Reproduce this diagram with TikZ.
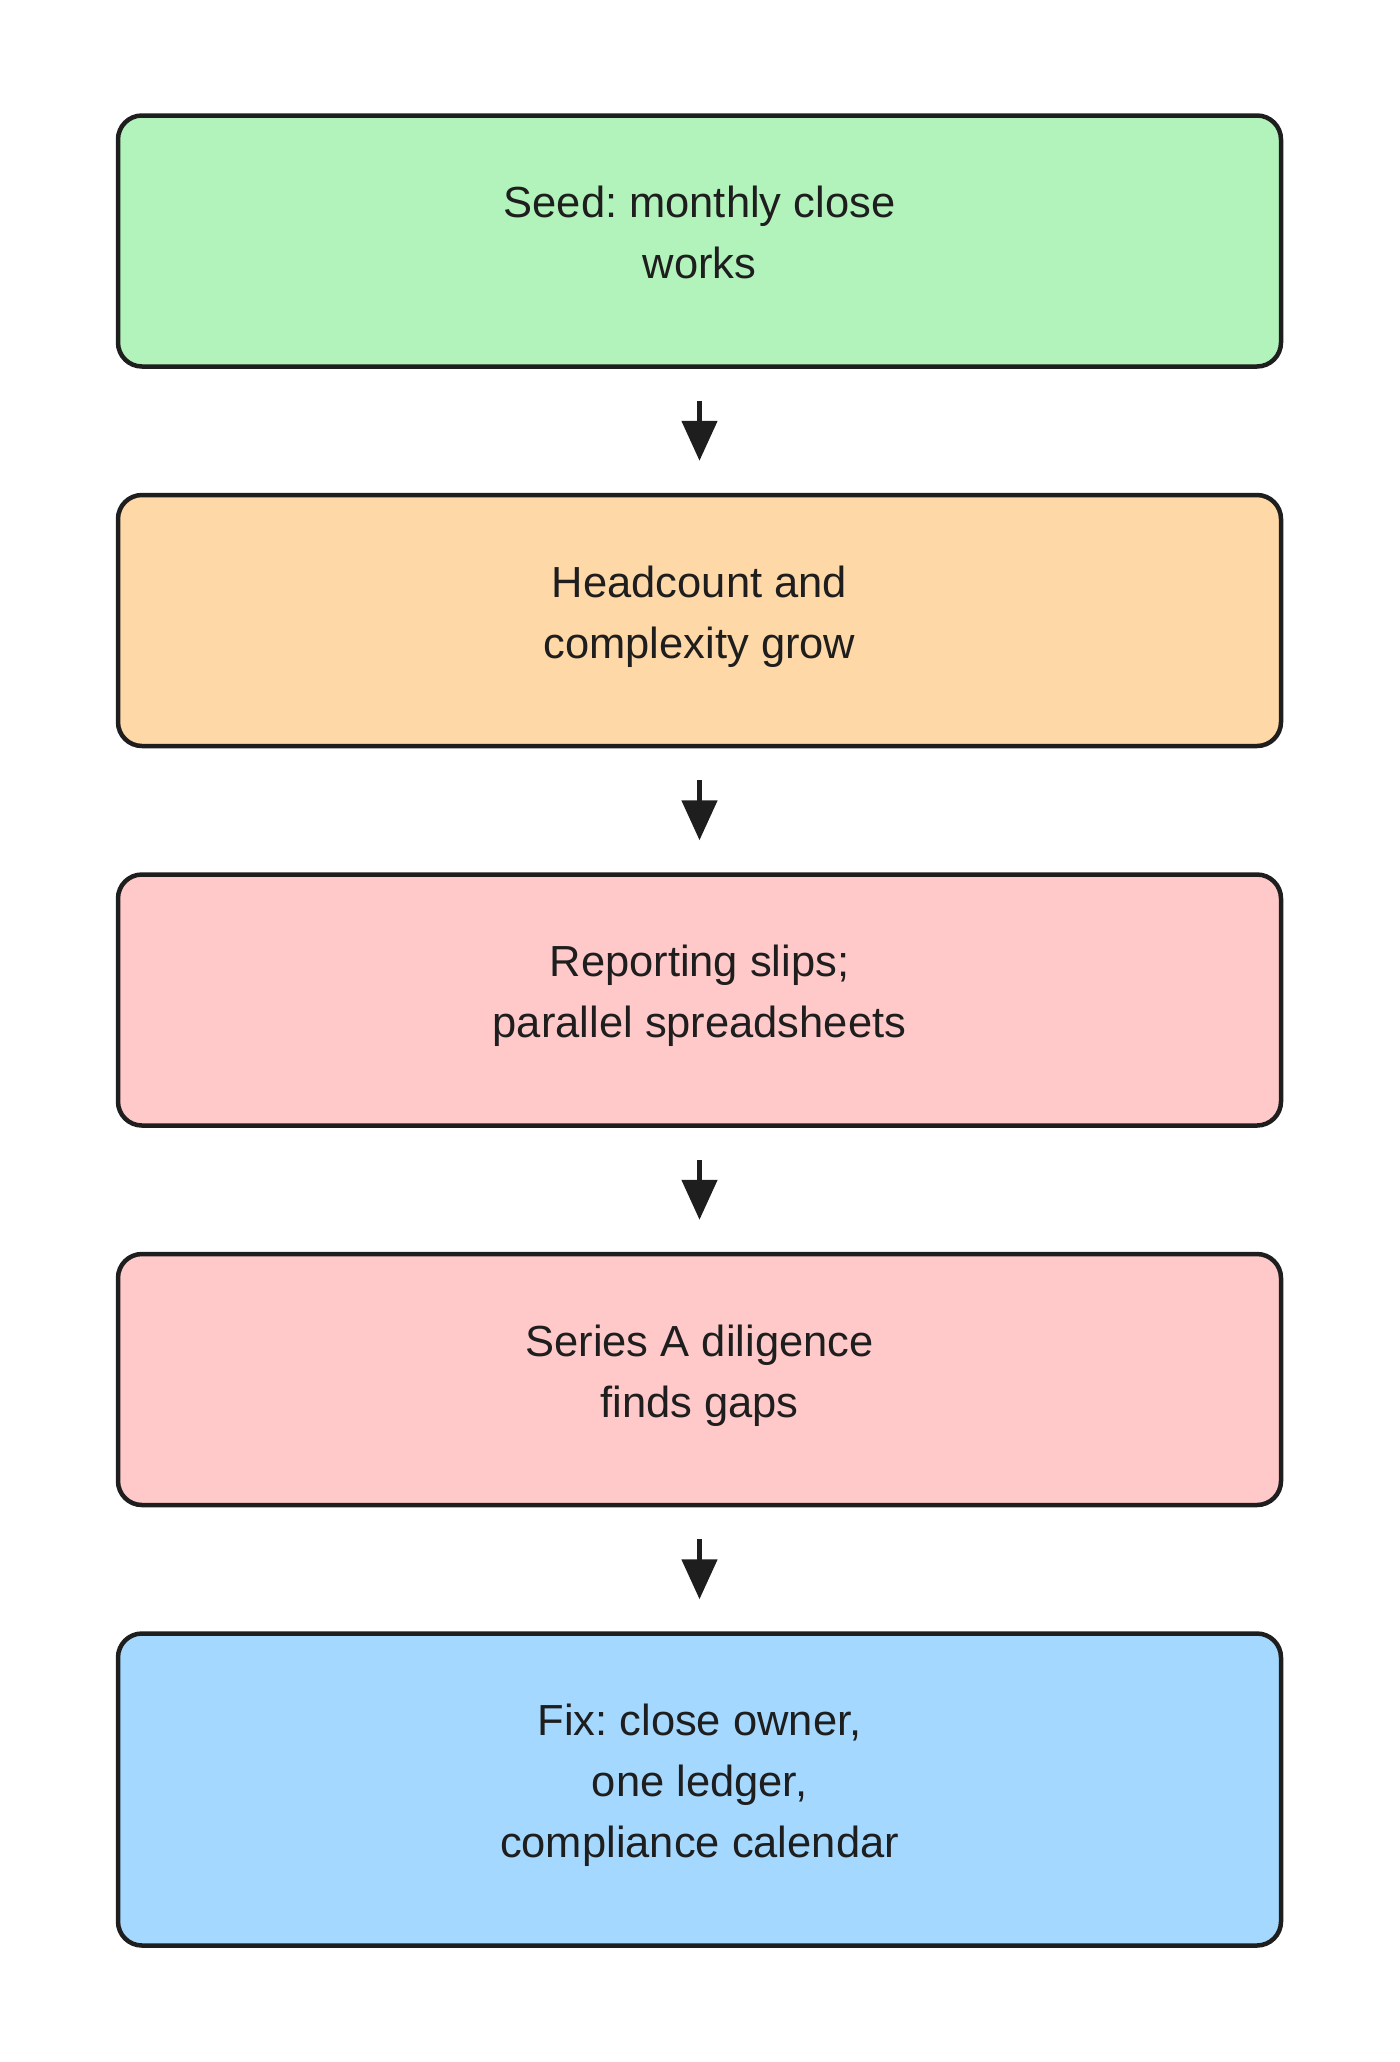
\documentclass[tikz,border=0pt]{standalone}
\usepackage{fontspec}
\setmainfont{Liberation Sans}
\usetikzlibrary{arrows.meta, positioning}
\frenchspacing

\definecolor{inkdark}{HTML}{1E1E1E}
\definecolor{seedgreen}{HTML}{B2F2BB}
\definecolor{groworange}{HTML}{FFD8A8}
\definecolor{slipred}{HTML}{FFC9C9}
\definecolor{fixblue}{HTML}{A5D8FF}

\begin{document}
\begin{tikzpicture}[x=1pt, y=-1pt, node distance=124pt,
  stage/.style={draw=inkdark, line width=4.5pt, rounded corners=24pt,
    minimum width=1163pt, minimum height=251pt, align=center,
    text depth=17pt, text=inkdark, font=\fontsize{43.5}{61}\selectfont},
  flow/.style={-{Triangle[length=40pt,width=35pt]}, line width=5pt,
    draw=inkdark, shorten <=32pt, shorten >=32pt}]
\useasboundingbox (0,0) rectangle (1400,2062);

% Stages of the close
\node[stage, fill=seedgreen] (seed) at (699.5,241) {Seed: monthly close\\works};
\node[stage, fill=groworange, below=of seed] (grow) {Headcount and\\complexity grow};
\node[stage, fill=slipred, below=of grow] (slips) {Reporting slips;\\parallel spreadsheets};
\node[stage, fill=slipred, below=of slips] (diligence) {Series A diligence\\finds gaps};
\node[stage, fill=fixblue, minimum height=312pt, below=of diligence] (fix)
  {Fix: close owner,\\one ledger,\\compliance calendar};

% Flow between stages
\draw[flow] (seed) -- (grow);
\draw[flow] (grow) -- (slips);
\draw[flow] (slips) -- (diligence);
\draw[flow] (diligence) -- (fix);
\end{tikzpicture}
\end{document}
